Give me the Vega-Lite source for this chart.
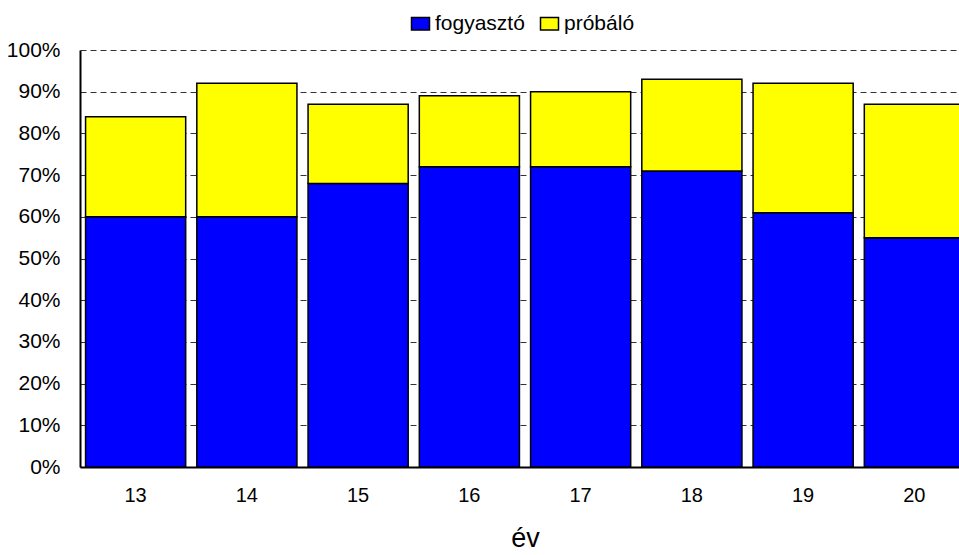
{
  "$schema": "https://vega.github.io/schema/vega-lite/v6.json",
  "autosize": "none",
  "padding": {"left": 80, "top": 50, "right": 0, "bottom": 88},
  "width": 890,
  "height": 417,
  "background": "white",
  "config": {
    "view": {"stroke": null},
    "font": "Liberation Sans, Arial"
  },
  "data": {
    "values": [
      {"ev": "13", "tipus": "fogyasztó", "ertek": 60},
      {"ev": "13", "tipus": "próbáló", "ertek": 24},
      {"ev": "14", "tipus": "fogyasztó", "ertek": 60},
      {"ev": "14", "tipus": "próbáló", "ertek": 32},
      {"ev": "15", "tipus": "fogyasztó", "ertek": 68},
      {"ev": "15", "tipus": "próbáló", "ertek": 19},
      {"ev": "16", "tipus": "fogyasztó", "ertek": 72},
      {"ev": "16", "tipus": "próbáló", "ertek": 17},
      {"ev": "17", "tipus": "fogyasztó", "ertek": 72},
      {"ev": "17", "tipus": "próbáló", "ertek": 18},
      {"ev": "18", "tipus": "fogyasztó", "ertek": 71},
      {"ev": "18", "tipus": "próbáló", "ertek": 22},
      {"ev": "19", "tipus": "fogyasztó", "ertek": 61},
      {"ev": "19", "tipus": "próbáló", "ertek": 31},
      {"ev": "20", "tipus": "fogyasztó", "ertek": 55},
      {"ev": "20", "tipus": "próbáló", "ertek": 32}
    ]
  },
  "mark": {"type": "bar", "stroke": "black", "strokeWidth": 1.5},
  "encoding": {
    "x": {
      "field": "ev",
      "type": "ordinal",
      "title": "év",
      "scale": {"paddingInner": 0.1, "paddingOuter": 0.05},
      "axis": {
        "labelAngle": 0,
        "labelFontSize": 20,
        "labelColor": "black",
        "labelPadding": 18,
        "ticks": false,
        "domainColor": "black",
        "domainWidth": 2,
        "titleFontSize": 27,
        "titleFontWeight": "normal",
        "titleColor": "black",
        "titlePadding": 20
      }
    },
    "y": {
      "field": "ertek",
      "type": "quantitative",
      "stack": "zero",
      "title": null,
      "scale": {"domain": [0, 100]},
      "axis": {
        "values": [0, 10, 20, 30, 40, 50, 60, 70, 80, 90, 100],
        "labelExpr": "datum.value + '%'",
        "labelFontSize": 21,
        "labelColor": "black",
        "labelPadding": 20,
        "ticks": false,
        "domainColor": "black",
        "domainWidth": 2,
        "grid": true,
        "gridColor": "black",
        "gridDash": [6, 4],
        "gridWidth": 1,
        "gridOpacity": 0.8
      }
    },
    "color": {
      "field": "tipus",
      "type": "nominal",
      "title": null,
      "scale": {"domain": ["fogyasztó", "próbáló"], "range": ["#0000FF", "#FFFF00"]},
      "legend": {
        "orient": "none",
        "legendX": 330,
        "legendY": -37,
        "direction": "horizontal",
        "symbolType": "M-1,-0.7L1,-0.7L1,0.7L-1,0.7Z",
        "symbolSize": 324,
        "symbolStrokeColor": "black",
        "symbolStrokeWidth": 1.5,
        "symbolOpacity": 1,
        "labelFontSize": 21,
        "labelColor": "black",
        "labelOffset": 4,
        "columnPadding": 12
      }
    },
    "order": {"field": "tipus", "sort": "ascending"}
  }
}
